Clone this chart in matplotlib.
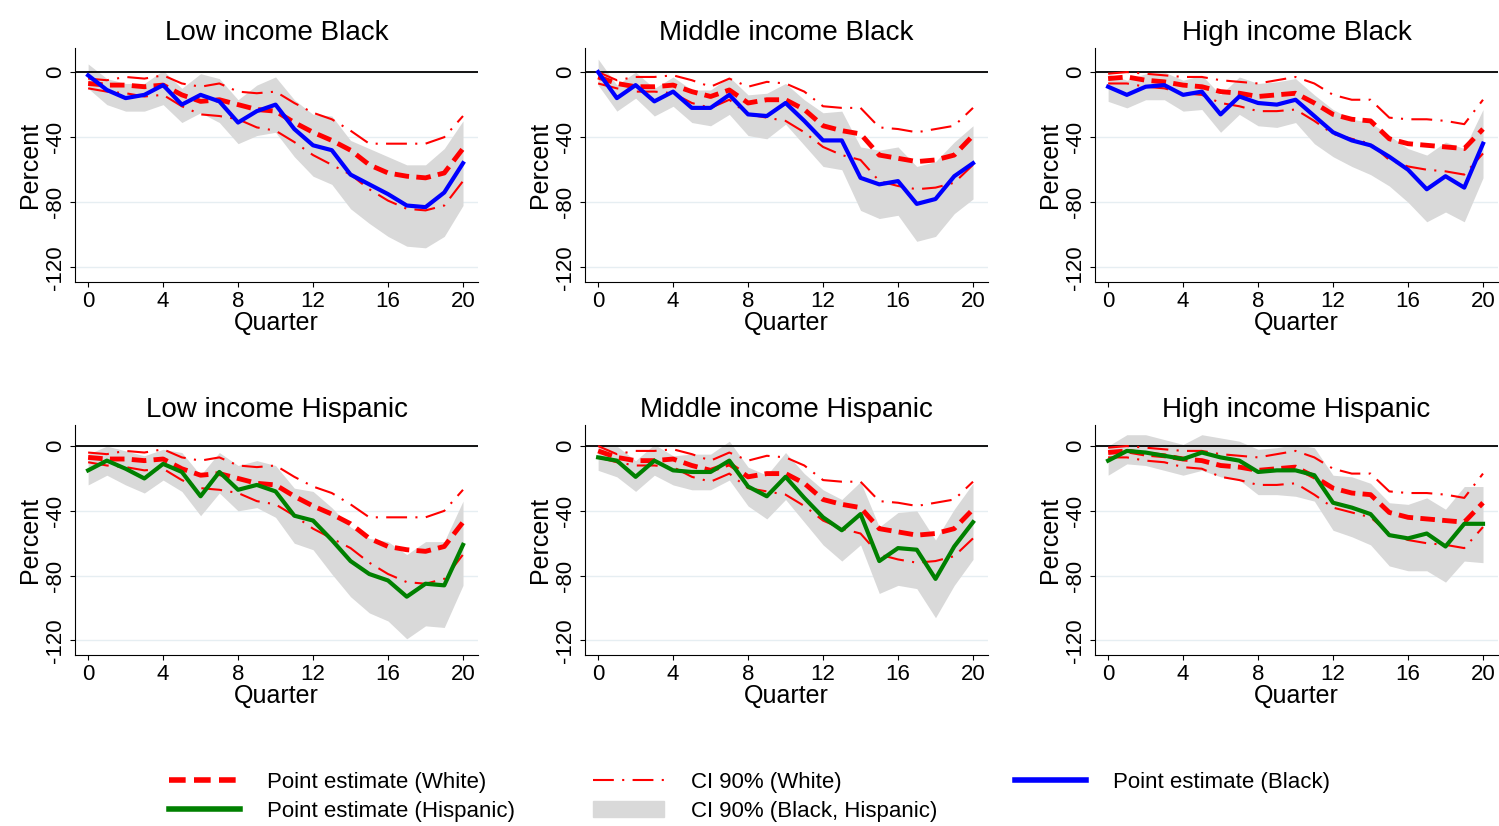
import numpy as np
import matplotlib.pyplot as plt
from matplotlib.patches import Patch
from matplotlib.lines import Line2D

plt.rcParams['font.family'] = ['Liberation Sans', 'DejaVu Sans']

quarter = np.arange(21)

# White point estimates and 90% CI, by income group
white_low = [-7, -8, -8, -9, -8, -14, -18, -17, -20, -23, -24, -31, -37, -42, -48, -57, -62, -64, -65, -62, -47]
white_low_hi = [-4, -5, -3, -4, -2, -7, -9, -7, -12, -13, -12, -19, -25, -29, -36, -44, -44, -44, -44, -40, -27]
white_low_lo = [-10, -12, -13, -15, -14, -21, -26, -27, -29, -34, -36, -43, -51, -57, -63, -72, -79, -84, -85, -82, -67]

white_mid = [-3, -7, -9, -9, -8, -12, -15, -11, -19, -17, -17, -23, -33, -36, -38, -51, -53, -55, -54, -51, -39]
white_mid_hi = [0, -5, -3, -3, -2, -5, -9, -4, -9, -6, -7, -12, -21, -22, -22, -34, -35, -37, -35, -33, -22]
white_mid_lo = [-7, -10, -12, -12, -13, -19, -22, -17, -26, -28, -30, -37, -46, -51, -54, -67, -70, -72, -71, -68, -57]

white_high = [-4, -3, -5, -6, -8, -9, -12, -13, -15, -14, -13, -19, -26, -29, -30, -41, -44, -45, -46, -47, -35]
white_high_hi = [-1, 0, -1, -2, -3, -3, -5, -6, -7, -5, -3, -7, -14, -17, -17, -28, -29, -29, -30, -32, -17]
white_high_lo = [-7, -7, -9, -10, -13, -14, -19, -21, -24, -24, -23, -30, -38, -41, -44, -54, -58, -60, -61, -63, -50]

# Black
black_low = [-2, -11, -16, -14, -8, -20, -14, -18, -31, -24, -20, -35, -45, -48, -63, -69, -75, -82, -83, -74, -56]
black_low_hi = [5, -4, -7, -7, 1, -10, -1, -4, -17, -8, -3, -17, -26, -27, -42, -47, -52, -57, -57, -47, -30]
black_low_lo = [-10, -20, -24, -24, -20, -31, -25, -31, -44, -39, -37, -52, -64, -69, -84, -93, -101, -107, -108, -101, -82]

black_mid = [0, -16, -8, -18, -12, -22, -22, -14, -26, -27, -19, -30, -42, -42, -65, -69, -67, -81, -78, -64, -56]
black_mid_hi = [8, -8, 0, -10, -3, -11, -11, -3, -14, -13, -7, -17, -25, -24, -46, -48, -46, -58, -55, -43, -33]
black_mid_lo = [-8, -24, -16, -27, -21, -31, -33, -26, -39, -41, -32, -45, -58, -60, -85, -90, -88, -104, -101, -87, -78]

black_high = [-9, -14, -9, -8, -14, -12, -26, -15, -19, -20, -17, -27, -37, -42, -45, -52, -60, -72, -64, -71, -44]
black_high_hi = [-1, -5, -1, 0, -5, -2, -14, -3, -7, -6, -4, -14, -23, -29, -31, -39, -47, -51, -43, -47, -23]
black_high_lo = [-18, -22, -17, -17, -24, -23, -37, -26, -33, -34, -31, -44, -52, -58, -63, -70, -80, -92, -86, -92, -65]

# Hispanic
hisp_low = [-15, -9, -14, -20, -11, -16, -31, -16, -27, -24, -28, -43, -46, -58, -71, -79, -83, -93, -85, -86, -61]
hisp_low_hi = [-5, 0, -3, -6, -2, -4, -18, -4, -12, -9, -12, -26, -28, -38, -50, -57, -59, -67, -59, -59, -34]
hisp_low_lo = [-24, -18, -24, -29, -21, -28, -43, -29, -40, -38, -44, -60, -64, -79, -93, -103, -108, -119, -111, -112, -86]

hisp_mid = [-7, -9, -19, -9, -15, -16, -16, -9, -25, -31, -19, -32, -44, -52, -42, -71, -63, -64, -82, -62, -47]
hisp_mid_hi = [0, 0, -9, 1, -6, -5, -5, 3, -13, -18, -4, -17, -27, -33, -22, -50, -41, -40, -58, -39, -23]
hisp_mid_lo = [-15, -19, -28, -18, -24, -27, -27, -21, -37, -45, -33, -47, -61, -71, -61, -91, -86, -88, -106, -86, -70]

hisp_high = [-9, -3, -4, -6, -8, -4, -7, -9, -16, -15, -15, -18, -35, -38, -42, -55, -57, -54, -62, -48, -48]
hisp_high_hi = [0, 7, 7, 4, 1, 7, 5, 3, -2, -1, 1, -1, -18, -19, -23, -35, -36, -32, -39, -25, -25]
hisp_high_lo = [-18, -11, -12, -15, -18, -15, -19, -21, -30, -30, -31, -34, -52, -56, -61, -74, -77, -77, -84, -71, -72]

panels = [
    ("Low income Black", white_low, white_low_hi, white_low_lo, black_low, black_low_hi, black_low_lo, "blue"),
    ("Middle income Black", white_mid, white_mid_hi, white_mid_lo, black_mid, black_mid_hi, black_mid_lo, "blue"),
    ("High income Black", white_high, white_high_hi, white_high_lo, black_high, black_high_hi, black_high_lo, "blue"),
    ("Low income Hispanic", white_low, white_low_hi, white_low_lo, hisp_low, hisp_low_hi, hisp_low_lo, "#008000"),
    ("Middle income Hispanic", white_mid, white_mid_hi, white_mid_lo, hisp_mid, hisp_mid_hi, hisp_mid_lo, "#008000"),
    ("High income Hispanic", white_high, white_high_hi, white_high_lo, hisp_high, hisp_high_hi, hisp_high_lo, "#008000"),
]

W, H = 1499, 826
fig = plt.figure(figsize=(W / 100, H / 100), dpi=100)

lefts = [75, 585, 1095]
rows = [(48, 282), (425, 655)]
width = 403

for i, (title, w, whi, wlo, m, mhi, mlo, col) in enumerate(panels):
    r, c = divmod(i, 3)
    top, bot = rows[r]
    ax = fig.add_axes([lefts[c] / W, 1 - bot / H, width / W, (bot - top) / H])
    ax.fill_between(quarter, mlo, mhi, color="#d9d9d9", lw=0)
    ax.axhline(0, color="black", lw=1.3)
    ax.plot(quarter, whi, color="red", lw=1.5, dashes=[10, 4, 1, 4])
    ax.plot(quarter, wlo, color="red", lw=1.5, dashes=[10, 4, 1, 4])
    ax.plot(quarter, w, color="red", lw=3.5, dashes=[3, 1.5])
    ax.plot(quarter, m, color=col, lw=3)
    ax.set_xlim(-0.7, 20.8)
    if r == 0:
        ax.set_ylim(-129, 14.8)
    else:
        ax.set_ylim(-129, 13)
    ax.set_xticks(range(0, 21, 4))
    ax.set_yticks([0, -40, -80, -120])
    ax.set_yticklabels(["0", "-40", "-80", "-120"], rotation=90, va="center")
    ax.grid(axis="y", color="#e6eef2", lw=1)
    ax.set_axisbelow(True)
    for s in ["top", "right"]:
        ax.spines[s].set_visible(False)
    ax.tick_params(labelsize=16, pad=3)
    ax.set_title(title, fontsize=20, pad=6)
    ax.set_xlabel("Quarter", fontsize=18, labelpad=-1)
    ax.set_ylabel("Percent", fontsize=18, labelpad=2)

handles = [
    Line2D([], [], color="red", lw=4, dashes=[3, 1.5]),
    Line2D([], [], color="#008000", lw=4),
    Line2D([], [], color="red", lw=1.5, dashes=[10, 4, 1, 4]),
    Patch(color="#d9d9d9"),
    Line2D([], [], color="blue", lw=4),
]
labels = ["Point estimate (White)", "Point estimate (Hispanic)", "CI 90% (White)",
          "CI 90% (Black, Hispanic)", "Point estimate (Black)"]
fig.legend(handles, labels, loc="center", bbox_to_anchor=(0.5, 1 - 797 / H), ncol=3,
           frameon=False, fontsize=16, handlelength=3.2, handletextpad=1.2,
           columnspacing=3.5, labelspacing=0.35)

fig.savefig("out.png", dpi=100)
